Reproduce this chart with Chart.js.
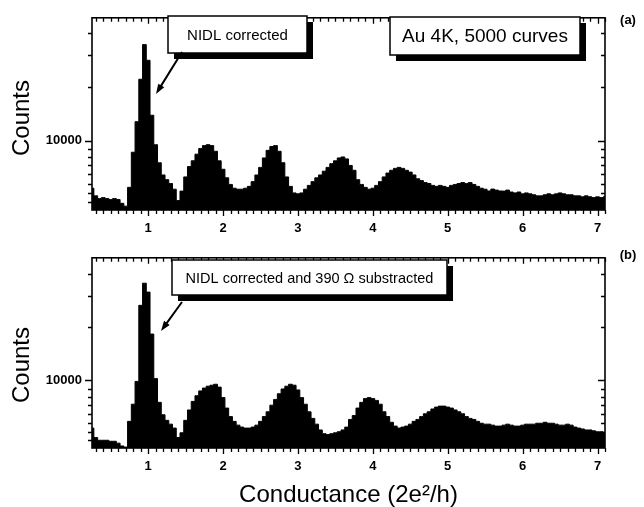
<!DOCTYPE html>
<html>
<head>
<meta charset="utf-8">
<script src="https://cdn.jsdelivr.net/npm/chart.js@4.4.0/dist/chart.umd.min.js"></script>
<style>
  html, body { margin: 0; padding: 0; background: #fff; }
  #wrap { position: relative; width: 644px; height: 507px; overflow: hidden; }
  .panel { position: absolute; left: 0; width: 644px; }
</style>
</head>
<body>
<div id="wrap">
  <div class="panel" style="top:0;height:240px"><canvas id="chartA"></canvas></div>
  <div class="panel" style="top:240px;height:267px"><canvas id="chartB"></canvas></div>
</div>
<script>
// bin centres, in units of 2e^2/h
const conductance = [
  0.25, 0.30, 0.35, 0.40, 0.45, 0.50, 0.55, 0.60, 0.65, 0.70,
  0.75, 0.80, 0.85, 0.90, 0.95, 1.00, 1.05, 1.10, 1.15, 1.20,
  1.25, 1.30, 1.35, 1.40, 1.45, 1.50, 1.55, 1.60, 1.65, 1.70,
  1.75, 1.80, 1.85, 1.90, 1.95, 2.00, 2.05, 2.10, 2.15, 2.20,
  2.25, 2.30, 2.35, 2.40, 2.45, 2.50, 2.55, 2.60, 2.65, 2.70,
  2.75, 2.80, 2.85, 2.90, 2.95, 3.00, 3.05, 3.10, 3.15, 3.20,
  3.25, 3.30, 3.35, 3.40, 3.45, 3.50, 3.55, 3.60, 3.65, 3.70,
  3.75, 3.80, 3.85, 3.90, 3.95, 4.00, 4.05, 4.10, 4.15, 4.20,
  4.25, 4.30, 4.35, 4.40, 4.45, 4.50, 4.55, 4.60, 4.65, 4.70,
  4.75, 4.80, 4.85, 4.90, 4.95, 5.00, 5.05, 5.10, 5.15, 5.20,
  5.25, 5.30, 5.35, 5.40, 5.45, 5.50, 5.55, 5.60, 5.65, 5.70,
  5.75, 5.80, 5.85, 5.90, 5.95, 6.00, 6.05, 6.10, 6.15, 6.20,
  6.25, 6.30, 6.35, 6.40, 6.45, 6.50, 6.55, 6.60, 6.65, 6.70,
  6.75, 6.80, 6.85, 6.90, 6.95, 7.00, 7.05, 7.10
];

// (a) NIDL corrected
const countsA = [
  5440, 4930, 4760, 4820, 4760, 4700, 4760, 4700, 4480, 4320,
  5500, 8640, 12800, 22100, 34500, 28200, 13900, 9520, 7550, 6450,
  6070, 5780, 5370, 4640, 5240, 6290, 7190, 7740, 8430, 9070,
  9410, 9520, 9410, 8750, 7740, 6940, 6220, 5710, 5440, 5370,
  5370, 5440, 5570, 5920, 6450, 7110, 8030, 8850, 9300, 9410,
  8750, 7550, 6290, 5570, 5120, 5060, 5120, 5370, 5640, 5920,
  6220, 6450, 6770, 7110, 7460, 7740, 8030, 8130, 7930, 7290,
  6850, 6070, 5710, 5500, 5370, 5440, 5640, 5920, 6290, 6610,
  6850, 7020, 7110, 7020, 6850, 6690, 6450, 6140, 6000, 5850,
  5780, 5640, 5570, 5640, 5570, 5500, 5640, 5710, 5780, 5850,
  5780, 5850, 5710, 5570, 5440, 5370, 5250, 5380, 5310, 5250,
  5240, 5310, 5180, 5120, 5180, 5060, 5120, 5060, 5000, 4930,
  4930, 5000, 5060, 5000, 5060, 5120, 5060, 5000, 5000, 4930,
  4930, 4870, 4930, 4870, 4820, 4870, 4820, 4870
];

// (b) NIDL corrected and 390 Ohm substracted
const countsB = [
  5380, 4760, 4590, 4590, 4590, 4530, 4530, 4420, 4260, 4200,
  5870, 7340, 9880, 26600, 35500, 31600, 18300, 10250, 7520, 6400,
  5950, 5660, 5380, 4760, 5060, 5950, 6810, 7610, 8200, 8730,
  9060, 9280, 9400, 9520, 9170, 8000, 6980, 6250, 5870, 5590,
  5450, 5380, 5380, 5450, 5590, 5870, 6250, 6650, 7250, 7810,
  8410, 8950, 9280, 9520, 9400, 8840, 8000, 7340, 6650, 6100,
  5660, 5250, 5000, 4940, 5000, 5060, 5130, 5250, 5450, 6020,
  6330, 6980, 7520, 7900, 8000, 7900, 7710, 7340, 6650, 6250,
  5800, 5520, 5380, 5450, 5520, 5660, 5870, 6020, 6250, 6480,
  6650, 6900, 7070, 7160, 7160, 7070, 6980, 6810, 6650, 6480,
  6250, 6100, 6020, 5870, 5730, 5660, 5660, 5590, 5520, 5520,
  5590, 5660, 5590, 5520, 5520, 5590, 5660, 5660, 5660, 5730,
  5730, 5800, 5730, 5730, 5660, 5590, 5590, 5660, 5590, 5450,
  5380, 5320, 5250, 5250, 5190, 5130, 5130, 5060
];

const xTickLabels = [1, 2, 3, 4, 5, 6, 7];
const yTickLabels = [10000];
const yMinorTicks = [4580, 5100, 5750, 6500, 7300, 8100, 9000, 20000, 30000, 40000];

const FONT = '"Liberation Sans", Arial, Helvetica, sans-serif';

function drawNote(ctx, n) {
  ctx.fillStyle = '#000';
  ctx.fillRect(n.x + 6, n.y + 6, n.w, n.h);
  ctx.fillStyle = '#fff';
  ctx.fillRect(n.x, n.y, n.w, n.h);
  ctx.lineWidth = 1.5;
  ctx.strokeRect(n.x, n.y, n.w, n.h);
  ctx.fillStyle = '#000';
  ctx.font = `${n.size}px ${FONT}`;
  ctx.textAlign = 'center';
  ctx.textBaseline = 'middle';
  ctx.fillText(n.text, n.x + n.w / 2, n.y + n.h / 2 + 1);
}

function drawArrow(ctx, [x0, y0], [x1, y1]) {
  const ang = Math.atan2(y1 - y0, x1 - x0);
  ctx.lineWidth = 2;
  ctx.beginPath();
  ctx.moveTo(x0, y0);
  ctx.lineTo(x1 - 6 * Math.cos(ang), y1 - 6 * Math.sin(ang));
  ctx.stroke();
  ctx.beginPath();
  ctx.moveTo(x1, y1);
  ctx.lineTo(x1 - 10 * Math.cos(ang) + 3.5 * Math.sin(ang), y1 - 10 * Math.sin(ang) - 3.5 * Math.cos(ang));
  ctx.lineTo(x1 - 10 * Math.cos(ang) - 3.5 * Math.sin(ang), y1 - 10 * Math.sin(ang) + 3.5 * Math.cos(ang));
  ctx.closePath();
  ctx.fill();
}

const framePlugin = {
  id: 'frame',
  afterDraw(chart, args, opts) {
    const { ctx, chartArea: a } = chart;
    const { x, y } = chart.scales;
    ctx.save();
    ctx.strokeStyle = '#000';
    ctx.fillStyle = '#000';
    ctx.lineWidth = 1.6;
    ctx.strokeRect(a.left, a.top, a.right - a.left, a.bottom - a.top);

    ctx.lineWidth = 1.3;
    ctx.beginPath();
    for (let k = 3; k <= 71; k++) {
      const px = Math.round(x.getPixelForValue(k / 10)) + 0.5;
      const len = k % 10 === 0 ? 6 : 4;
      ctx.moveTo(px, a.bottom); ctx.lineTo(px, a.bottom + len);
      ctx.moveTo(px, a.top); ctx.lineTo(px, a.top + len);
    }
    yMinorTicks.forEach((v) => {
      const py = Math.round(y.getPixelForValue(v)) + 0.5;
      ctx.moveTo(a.left - 4, py); ctx.lineTo(a.left, py);
      ctx.moveTo(a.right, py); ctx.lineTo(a.right - 4, py);
    });
    yTickLabels.forEach((v) => {
      const py = Math.round(y.getPixelForValue(v)) + 0.5;
      ctx.moveTo(a.left - 7, py); ctx.lineTo(a.left, py);
      ctx.moveTo(a.right, py); ctx.lineTo(a.right - 7, py);
    });
    ctx.stroke();

    ctx.save();
    ctx.font = `24px ${FONT}`;
    ctx.textAlign = 'center';
    ctx.textBaseline = 'middle';
    ctx.translate(22, opts.countsY);
    ctx.rotate(-Math.PI / 2);
    ctx.fillText('Counts', 0, 0);
    ctx.restore();

    opts.notes.forEach((n) => drawNote(ctx, n));
    drawArrow(ctx, opts.arrow.from, opts.arrow.to);

    ctx.font = `bold 13px ${FONT}`;
    ctx.textAlign = 'center';
    ctx.textBaseline = 'middle';
    ctx.fillText(opts.label.text, opts.label.x, opts.label.y);
    ctx.restore();
  }
};

function makeChart(id, counts, cfg) {
  return new Chart(document.getElementById(id), {
    type: 'line',
    data: {
      datasets: [{
        data: conductance.map((g, i) => ({ x: g, y: counts[i] })),
        stepped: 'middle',
        fill: 'start',
        backgroundColor: '#000',
        borderColor: '#000',
        borderWidth: 1,
        pointRadius: 0
      }]
    },
    options: {
      responsive: true,
      maintainAspectRatio: false,
      animation: false,
      layout: { padding: { top: cfg.top, right: 39, left: 0, bottom: 0 } },
      plugins: {
        legend: { display: false },
        tooltip: { enabled: false },
        frame: cfg.frame
      },
      scales: {
        x: {
          type: 'linear',
          min: 0.25,
          max: 7.1,
          grid: { display: false, drawTicks: false },
          border: { display: false },
          ticks: {
            color: '#000',
            font: { family: FONT, size: 13, weight: 'bold' },
            padding: 11,
            maxRotation: 0,
            autoSkip: false,
            callback: (v) => String(v)
          },
          title: cfg.xTitle,
          afterBuildTicks: (s) => { s.ticks = xTickLabels.map((v) => ({ value: v })); },
          afterFit: (s) => { s.height = cfg.xHeight; }
        },
        y: {
          type: 'logarithmic',
          min: cfg.yMin,
          max: cfg.yMax,
          grid: { display: false, drawTicks: false },
          border: { display: false },
          ticks: {
            color: '#000',
            font: { family: FONT, size: 13, weight: 'bold' },
            padding: 10,
            callback: (v) => String(v)
          },
          afterBuildTicks: (s) => { s.ticks = yTickLabels.map((v) => ({ value: v })); },
          afterFit: (s) => { s.width = 92; }
        }
      }
    },
    plugins: [framePlugin]
  });
}

makeChart('chartA', countsA, {
  top: 7,
  xHeight: 30,
  yMin: 4110,
  yMax: 48700,
  xTitle: { display: false },
  frame: {
    countsY: 118,
    notes: [
      { text: 'NIDL corrected', x: 168, y: 16, w: 139, h: 37, size: 15 },
      { text: 'Au 4K, 5000 curves', x: 390, y: 17, w: 190, h: 38, size: 19 }
    ],
    arrow: { from: [182, 52], to: [156, 94] },
    label: { text: '(a)', x: 628, y: 20 }
  }
});

makeChart('chartB', countsB, {
  top: 8,
  xHeight: 59,
  yMin: 4150,
  yMax: 49400,
  xTitle: {
    display: true,
    text: 'Conductance (2e\u00b2/h)',
    color: '#000',
    font: { family: FONT, size: 24, lineHeight: 1 },
    padding: { top: 0, bottom: 0 }
  },
  frame: {
    countsY: 125,
    notes: [
      { text: 'NIDL corrected and 390 \u03a9 substracted', x: 172, y: 20, w: 275, h: 35, size: 14.5 }
    ],
    arrow: { from: [182, 62], to: [161, 91] },
    label: { text: '(b)', x: 628, y: 15 }
  }
});
</script>
</body>
</html>
